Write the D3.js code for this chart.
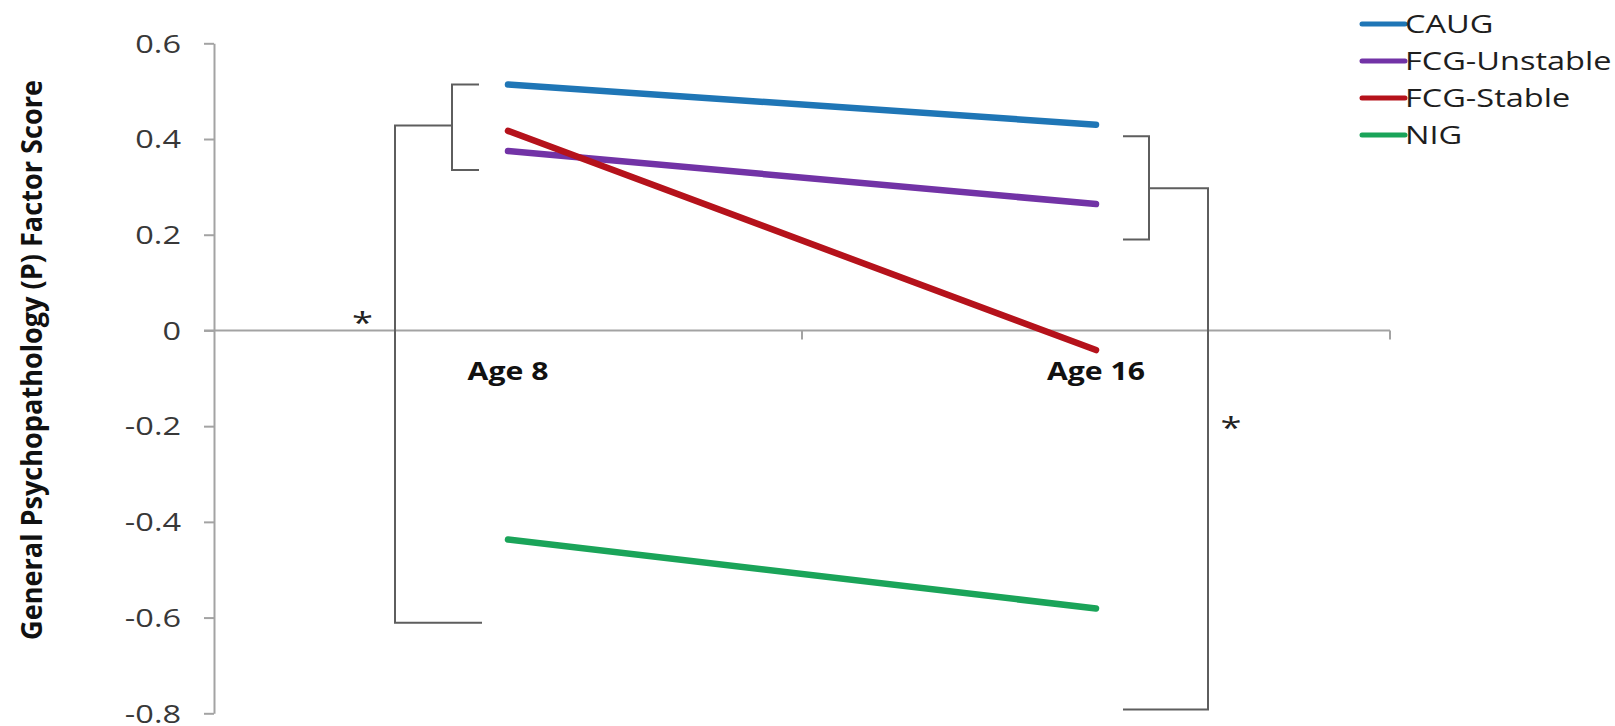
<!DOCTYPE html>
<html>
<head>
<meta charset="utf-8">
<script src="https://cdn.jsdelivr.net/npm/d3@7"></script>
<style>
  html, body { margin: 0; padding: 0; background: #ffffff; }
  svg { display: block; }
</style>
</head>
<body>
<svg id="chart" width="1615" height="726"></svg>
<script>
// ---------- data ----------
const categories = ["Age 8", "Age 16"];
const seriesNames = ["CAUG", "FCG-Unstable", "FCG-Stable", "NIG"];
const caug = [0.514, 0.430];
const fcgUnstable = [0.375, 0.264];
const fcgStable = [0.417, -0.041];
const nig = [-0.437, -0.581];
const yTicks = [0.6, 0.4, 0.2, 0, -0.2, -0.4, -0.6, -0.8];
const yTickLabels = ["0.6", "0.4", "0.2", "0", "-0.2", "-0.4", "-0.6", "-0.8"];
const yTitle = "General Psychopathology (P) Factor Score";
// significance brackets (in data units)
const leftInnerSpan = [0.514, 0.335];
const leftStem = 0.428;
const leftOuterEnd = -0.611;
const rightInnerSpan = [0.406, 0.190];
const rightStem = 0.297;
const rightOuterEnd = -0.792;
const starValues = [0.029, -0.191];
const starText = "*";

// ---------- styles ----------
const colors = ["#1f76b6", "#7233a6", "#b5121b", "#1aa459"];
const FONT = "'Open Sans', 'Liberation Sans', sans-serif";
const SX = 1.27;   // horizontal stretch of regular text
const SXB = 1.18;  // horizontal stretch of bold text

const svg = d3.select("#chart");

const x = d3.scaleBand().domain(categories).range([214, 1390]).padding(0);
const cx = c => x(c) + x.bandwidth() / 2;
const y = d3.scaleLinear().domain([-0.8, 0.6]).range([713.3, 43.3]);

// ---------- y axis ----------
const yAxis = d3.axisLeft(y)
  .tickValues(yTicks)
  .tickSize(10)
  .tickSizeOuter(0)
  .tickFormat((d, i) => yTickLabels[i]);
const gy = svg.append("g").attr("transform", "translate(214,0)").call(yAxis);
gy.select(".domain").attr("stroke", "#a3a3a3").attr("stroke-width", 2);
gy.selectAll(".tick line").attr("stroke", "#a3a3a3").attr("stroke-width", 2);
gy.selectAll(".tick text")
  .attr("x", 0).attr("dy", "0.34em")
  .attr("transform", `translate(-33,0) scale(${SX},1)`)
  .attr("text-anchor", "end")
  .style("font-family", FONT).style("font-size", "25.6px").attr("fill", "#383838");

// ---------- x axis (at zero) ----------
const gx = svg.append("g");
gx.append("line")
  .attr("x1", x.range()[0] - 10).attr("x2", x.range()[1])
  .attr("y1", y(0)).attr("y2", y(0))
  .attr("stroke", "#a3a3a3").attr("stroke-width", 2);
gx.selectAll("line.tk").data(categories).join("line").attr("class", "tk")
  .attr("x1", d => x(d) + x.bandwidth()).attr("x2", d => x(d) + x.bandwidth())
  .attr("y1", y(0)).attr("y2", y(0) + 9)
  .attr("stroke", "#a3a3a3").attr("stroke-width", 2);
gx.selectAll("text").data(categories).join("text")
  .attr("transform", d => `translate(${cx(d)},${y(0) + 50}) scale(${SXB},1)`)
  .attr("text-anchor", "middle")
  .style("font-family", FONT).style("font-size", "25.6px").style("font-weight", "bold")
  .attr("fill", "#111")
  .text(d => d);

// ---------- y title ----------
svg.append("text")
  .attr("transform", `translate(42,360) rotate(-90) scale(1,${SXB})`)
  .attr("text-anchor", "middle")
  .attr("textLength", 560).attr("lengthAdjust", "spacingAndGlyphs")
  .style("font-family", FONT).style("font-size", "24px").style("font-weight", "bold")
  .attr("fill", "#111")
  .text(yTitle);

// ---------- series lines ----------
const series = [caug, fcgUnstable, fcgStable, nig];
const line = d3.line().x((d, i) => cx(categories[i])).y(d => y(d));
svg.append("g").selectAll("path").data(series).join("path")
  .attr("d", d => line(d))
  .attr("fill", "none")
  .attr("stroke", (d, i) => colors[i])
  .attr("stroke-width", 6.5)
  .attr("stroke-linecap", "round");

// ---------- brackets ----------
const bc = "#5e5e5e";
const c0 = cx(categories[0]), c1 = cx(categories[1]);
const gb = svg.append("g").attr("fill", "none").attr("stroke", bc).attr("stroke-width", 2);
gb.append("path").attr("d",
  `M${c0 - 29},${y(leftInnerSpan[0])}H${c0 - 56}V${y(leftInnerSpan[1])}H${c0 - 29}`);
gb.append("path").attr("d",
  `M${c0 - 56},${y(leftStem)}H${c0 - 113}V${y(leftOuterEnd)}H${c0 - 26}`);
gb.append("path").attr("d",
  `M${c1 + 27},${y(rightInnerSpan[0])}H${c1 + 53}V${y(rightInnerSpan[1])}H${c1 + 27}`);
gb.append("path").attr("d",
  `M${c1 + 53},${y(rightStem)}H${c1 + 112}V${y(rightOuterEnd)}H${c1 + 27}`);

svg.selectAll("text.star").data(starValues).join("text").attr("class", "star")
  .attr("transform", (d, i) => `translate(${i === 0 ? c0 - 145.5 : c1 + 135},${y(d) + 16}) scale(${SX},1)`)
  .attr("text-anchor", "middle")
  .style("font-family", FONT).style("font-size", "30px")
  .attr("fill", "#222")
  .text(starText);

// ---------- legend ----------
const lg = svg.append("g");
const ly = i => 24 + i * 37;
lg.selectAll("line").data(seriesNames).join("line")
  .attr("x1", 1362).attr("x2", 1405)
  .attr("y1", (d, i) => ly(i)).attr("y2", (d, i) => ly(i))
  .attr("stroke", (d, i) => colors[i]).attr("stroke-width", 5)
  .attr("stroke-linecap", "round");
lg.selectAll("text").data(seriesNames).join("text")
  .attr("transform", (d, i) => `translate(1405,${ly(i) + 9.2}) scale(${SX},1)`)
  .style("font-family", FONT).style("font-size", "25.6px")
  .attr("fill", "#1e1e1e")
  .text(d => d);
</script>
</body>
</html>
